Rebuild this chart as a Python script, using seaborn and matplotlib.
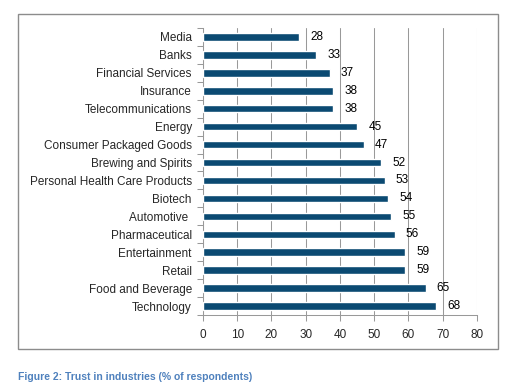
import matplotlib
matplotlib.use("Agg")
import matplotlib.pyplot as plt
from matplotlib.patches import Rectangle
from matplotlib.ticker import FixedLocator
import seaborn as sns
import pandas as pd
import numpy as np

industries = ["Media", "Banks", "Financial Services", "Insurance", "Telecommunications",
              "Energy", "Consumer Packaged Goods", "Brewing and Spirits",
              "Personal Health Care Products", "Biotech", "Automotive ", "Pharmaceutical",
              "Entertainment", "Retail", "Food and Beverage", "Technology"]
trust = [28, 33, 37, 38, 38, 45, 47, 52, 53, 54, 55, 56, 59, 59, 65, 68]
x_ticks = [0, 10, 20, 30, 40, 50, 60, 70, 80]

df = pd.DataFrame({"industry": industries, "trust": trust})

sns.set_style("white")
plt.rcParams["font.family"] = ["Liberation Sans", "DejaVu Sans"]

fig = plt.figure(figsize=(5.21, 3.91), dpi=100)
ax = fig.add_axes([0.3896, 0.1944, 0.5259, 0.734])

sns.barplot(data=df, x="trust", y="industry", orient="h", color="#0B4A72",
            width=0.42, saturation=1, ax=ax, zorder=3)

# value labels a bit right of the bar end, like excel
for c in ax.containers:
    ax.bar_label(c, padding=8, fontsize=8.5, color="black")

ax.set_xlim(0, 80)
ax.set_xticks(x_ticks)
ax.set_ylim(len(industries) - 0.5, -0.5)
ax.set_xlabel("")
ax.set_ylabel("")
ax.grid(axis="x", color="#999999", linewidth=0.75, zorder=0)
ax.grid(axis="y", visible=False)

for s in ["top", "right"]:
    ax.spines[s].set_visible(False)
for s in ["left", "bottom"]:
    ax.spines[s].set_color("#999999")
    ax.spines[s].set_linewidth(0.75)

ax.yaxis.set_minor_locator(FixedLocator(np.arange(-0.5, len(industries), 1)))
ax.tick_params(axis="y", which="major", length=0, pad=8, labelsize=8.5)
ax.tick_params(axis="y", which="minor", length=4, color="#999999", width=0.75, left=True)
ax.tick_params(axis="x", which="major", length=4, color="#999999", width=0.75, bottom=True,
               labelsize=8.5, pad=6)

fig.patches.append(Rectangle((0.0345, 0.1074), 0.921, 0.857, transform=fig.transFigure,
                             fill=False, edgecolor="#8c8c8c", linewidth=1))

fig.text(0.0345, 0.028, "Figure 2: Trust in industries (% of respondents)",
         color="#4F81BD", fontsize=7.5, fontweight="bold")

fig.savefig("out.png", dpi=100)
